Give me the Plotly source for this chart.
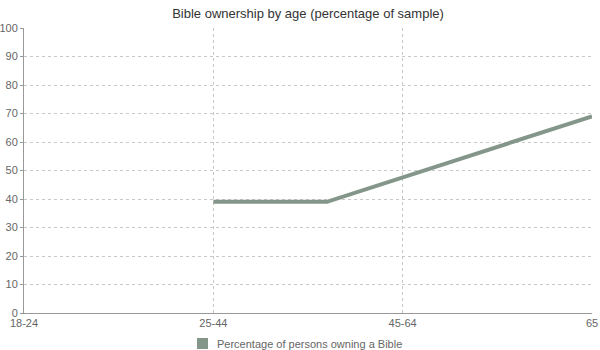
import plotly.graph_objects as go

categories = ["18-24", "25-44", "45-64", "65"]
cat_pos = [0, 1, 2, 3]
x_vals = [1, 1.6, 3]
y_vals = [39, 39, 69]
y_ticks = list(range(0, 101, 10))
series_name = "Percentage of persons owning a Bible"
title = "Bible ownership by age (percentage of sample)"

line_color = "#84968a"
font_family = "Liberation Sans, Arial, sans-serif"

fig = go.Figure()
fig.add_trace(go.Scatter(
    x=x_vals, y=y_vals, mode="lines", name=series_name,
    line=dict(color=line_color, width=4), showlegend=False,
))

fig.update_layout(
    width=600, height=350,
    margin=dict(l=24, r=8, t=28, b=37),
    paper_bgcolor="white", plot_bgcolor="white",
    font=dict(family=font_family, size=11, color="#666"),
    title=dict(text=title, x=0.5, xref="paper", xanchor="center", y=1 - 13 / 350, yanchor="middle",
               font=dict(size=13, color="#333", family=font_family)),
    xaxis=dict(
        range=[0, 3], tickmode="array", tickvals=cat_pos, ticktext=categories,
        showgrid=True, gridcolor="#c8c8c8", griddash="3px,3px", gridwidth=1,
        showline=True, linecolor="#999", linewidth=1,
        ticks="", zeroline=False, fixedrange=True, automargin=False,
    ),
    yaxis=dict(
        range=[0, 100], tickmode="array", tickvals=y_ticks,
        showgrid=True, gridcolor="#c8c8c8", griddash="3px,3px", gridwidth=1,
        showline=True, linecolor="#999", linewidth=1,
        ticks="outside", ticklen=3, tickcolor="#999",
        zeroline=False, fixedrange=True, automargin=False,
    ),
    shapes=[dict(type="rect", xref="paper", yref="paper",
                 x0=(197 - 24) / 568, x1=(208 - 24) / 568,
                 y0=-(338 - 313) / 285, y1=-(349 - 313) / 285,
                 fillcolor=line_color, line=dict(width=0))],
    annotations=[dict(text=series_name, xref="paper", yref="paper",
                      x=(215 - 24) / 568, y=-(343.5 - 313) / 285,
                      xanchor="left", yanchor="middle", showarrow=False,
                      font=dict(size=11, color="#666", family=font_family))],
)

fig.write_html("out.html")
